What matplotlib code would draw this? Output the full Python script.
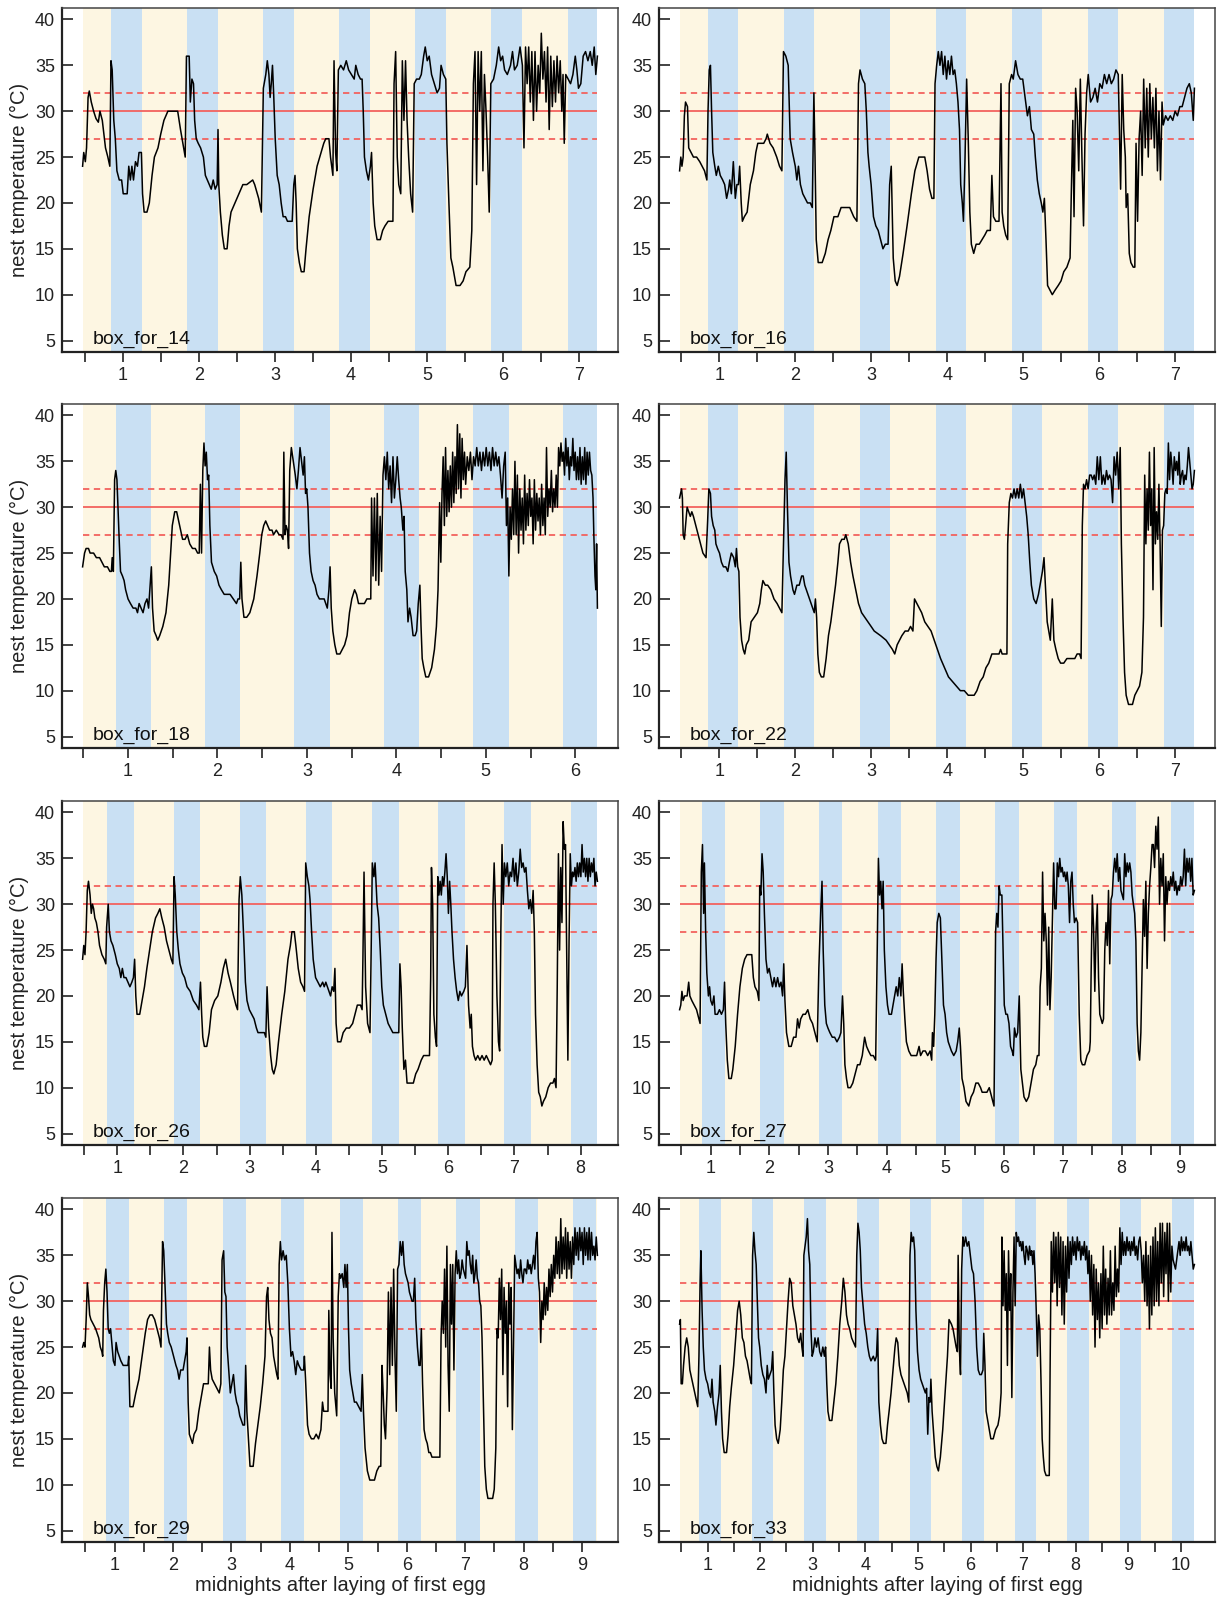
import numpy as np
import matplotlib.pyplot as plt

plt.rcParams['font.family'] = ['Liberation Sans', 'DejaVu Sans']

# nest temperature traces, (days after first egg, deg C)
box14 = [
    (0.471, 24.0), (0.486, 25.5), (0.507, 24.5), (0.523, 26.0), (0.543, 31.5), (0.559, 32.2),
    (0.585, 31.0), (0.616, 30.0), (0.647, 29.2), (0.678, 28.8), (0.699, 30.0), (0.730, 29.0),
    (0.751, 27.5), (0.772, 26.0), (0.803, 25.0), (0.829, 24.0), (0.844, 35.5), (0.860, 34.5),
    (0.881, 29.0), (0.901, 27.0), (0.922, 23.5), (0.953, 22.5), (0.984, 22.5), (1.005, 21.0),
    (1.031, 21.0), (1.057, 21.0), (1.078, 24.0), (1.099, 22.5), (1.119, 24.0), (1.140, 22.5),
    (1.166, 24.5), (1.192, 24.0), (1.213, 25.5), (1.244, 25.5), (1.259, 21.0), (1.280, 19.0),
    (1.317, 19.0), (1.348, 20.0), (1.384, 23.0), (1.415, 25.0), (1.462, 26.0), (1.498, 27.5),
    (1.540, 29.0), (1.592, 30.0), (1.643, 30.0), (1.721, 30.0), (1.758, 28.0), (1.799, 26.0),
    (1.820, 25.0), (1.836, 36.0), (1.872, 36.0), (1.887, 31.0), (1.908, 33.5), (1.929, 33.0),
    (1.944, 29.0), (1.965, 27.0), (1.991, 26.5), (2.022, 26.0), (2.059, 25.0), (2.085, 23.0),
    (2.111, 22.5), (2.162, 21.5), (2.188, 22.5), (2.214, 21.5), (2.240, 22.0), (2.251, 28.0),
    (2.261, 22.0), (2.282, 19.0), (2.308, 16.5), (2.334, 15.0), (2.370, 15.0), (2.396, 17.5),
    (2.422, 19.0), (2.474, 20.0), (2.526, 21.0), (2.578, 22.0), (2.629, 22.0), (2.707, 22.5),
    (2.733, 22.0), (2.785, 20.5), (2.821, 19.0), (2.847, 32.5), (2.879, 34.0), (2.899, 35.5),
    (2.920, 34.0), (2.936, 31.5), (2.951, 33.0), (2.967, 35.0), (2.982, 32.0), (3.003, 27.0),
    (3.029, 23.0), (3.055, 22.0), (3.081, 20.0), (3.107, 18.5), (3.138, 18.5), (3.164, 18.0),
    (3.226, 18.0), (3.247, 22.0), (3.263, 23.0), (3.278, 20.0), (3.294, 15.0), (3.320, 13.5),
    (3.346, 12.5), (3.382, 12.5), (3.408, 15.0), (3.449, 18.5), (3.501, 21.5), (3.553, 24.0),
    (3.605, 25.5), (3.641, 26.5), (3.667, 27.0), (3.709, 27.0), (3.730, 25.0), (3.761, 23.0),
    (3.776, 35.5), (3.797, 25.5), (3.813, 23.5), (3.833, 34.5), (3.865, 35.0), (3.901, 34.5),
    (3.937, 35.5), (3.968, 34.5), (4.005, 34.0), (4.041, 33.5), (4.062, 35.0), (4.093, 34.0),
    (4.124, 33.5), (4.145, 33.5), (4.160, 30.0), (4.176, 25.0), (4.202, 23.5), (4.228, 22.5),
    (4.254, 24.0), (4.269, 25.5), (4.290, 20.0), (4.311, 17.5), (4.342, 16.0), (4.384, 16.0),
    (4.415, 17.0), (4.446, 17.5), (4.487, 18.0), (4.550, 18.0), (4.565, 33.0), (4.586, 36.5),
    (4.607, 25.0), (4.627, 22.0), (4.653, 21.0), (4.674, 35.5), (4.695, 29.0), (4.716, 35.5),
    (4.736, 29.0), (4.757, 25.0), (4.783, 21.0), (4.809, 19.0), (4.830, 33.0), (4.861, 33.5),
    (4.897, 33.5), (4.923, 34.0), (4.954, 36.0), (4.975, 37.0), (5.001, 35.5), (5.027, 36.0),
    (5.058, 34.0), (5.094, 33.0), (5.131, 32.0), (5.162, 32.5), (5.183, 35.0), (5.214, 34.0),
    (5.245, 33.5), (5.260, 26.5), (5.286, 20.0), (5.312, 14.0), (5.338, 13.0), (5.380, 11.0),
    (5.432, 11.0), (5.473, 11.5), (5.510, 12.5), (5.561, 13.0), (5.587, 17.0), (5.608, 33.0),
    (5.629, 36.5), (5.650, 22.0), (5.670, 36.5), (5.691, 30.0), (5.712, 36.5), (5.733, 23.5),
    (5.753, 34.0), (5.774, 30.0), (5.795, 25.0), (5.816, 19.0), (5.837, 33.0), (5.873, 33.5),
    (5.909, 35.0), (5.940, 37.0), (5.966, 35.5), (5.992, 36.0), (6.018, 34.5), (6.054, 34.0),
    (6.096, 35.0), (6.122, 36.5), (6.148, 34.5), (6.184, 35.0), (6.221, 37.0),
    (6.786, 34.0), (6.802, 26.5), (6.822, 34.0), (6.854, 33.5), (6.885, 33.0), (6.916, 34.0),
    (6.947, 36.0), (6.968, 34.5), (6.989, 32.5), (7.020, 33.0), (7.051, 36.0), (7.082, 36.5),
    (7.113, 35.5), (7.144, 36.5), (7.170, 35.0), (7.196, 37.0), (7.217, 34.0), (7.238, 36.0),
]
# stretches of dense logging: (first time, last time, evenly spaced readings)
burst14 = [
    (6.252, 6.770, [35.0, 26.0, 37.0, 33.0, 37.0, 31.0, 36.5, 29.0, 36.5, 30.0, 35.0, 32.0, 38.5,
                    33.5, 36.5, 31.0, 37.0, 28.0, 36.0, 30.5, 35.5, 31.0, 36.0, 32.0, 35.5, 30.0]),
]

box16 = [
    (0.475, 23.5), (0.491, 25.0), (0.506, 24.0), (0.522, 25.0), (0.538, 29.5), (0.553, 31.0),
    (0.579, 30.5), (0.595, 26.0), (0.626, 25.5), (0.657, 25.0), (0.699, 25.0), (0.740, 24.5),
    (0.771, 24.0), (0.803, 23.5), (0.834, 22.5), (0.849, 30.0), (0.865, 34.5), (0.881, 35.0),
    (0.896, 30.0), (0.912, 25.5), (0.938, 24.0), (0.958, 23.0), (0.984, 24.0), (1.010, 23.0),
    (1.042, 22.5), (1.068, 22.0), (1.094, 20.5), (1.119, 21.5), (1.135, 22.5), (1.156, 21.0),
    (1.182, 24.5), (1.208, 20.5), (1.229, 22.0), (1.249, 22.0), (1.265, 24.0), (1.286, 20.0),
    (1.301, 18.0), (1.327, 18.5), (1.364, 19.0), (1.405, 22.0), (1.447, 23.5), (1.478, 25.5),
    (1.504, 26.5), (1.545, 26.5), (1.582, 26.5), (1.613, 27.0), (1.629, 27.5), (1.665, 26.5),
    (1.706, 26.0), (1.753, 25.0), (1.790, 24.0), (1.821, 23.5), (1.842, 36.5), (1.873, 36.0),
    (1.904, 35.0), (1.930, 27.0), (1.961, 25.5), (1.997, 24.0), (2.018, 22.5), (2.039, 24.0),
    (2.065, 22.0), (2.096, 21.0), (2.127, 20.5), (2.158, 20.0), (2.195, 20.0), (2.221, 19.5),
    (2.242, 32.0), (2.257, 25.0), (2.273, 16.0), (2.299, 13.5), (2.351, 13.5), (2.392, 14.5),
    (2.429, 16.0), (2.465, 17.0), (2.506, 18.5), (2.558, 18.5), (2.600, 19.5), (2.662, 19.5),
    (2.714, 19.5), (2.766, 18.5), (2.808, 18.0), (2.829, 33.0), (2.849, 34.5), (2.881, 33.5),
    (2.912, 33.0), (2.932, 30.0), (2.953, 25.5), (2.969, 24.0), (2.995, 22.0), (3.026, 18.5),
    (3.057, 17.5), (3.088, 17.0), (3.119, 16.0), (3.151, 15.0), (3.182, 15.5), (3.218, 15.5),
    (3.239, 22.0), (3.260, 24.0), (3.286, 14.0), (3.312, 11.5), (3.338, 11.0), (3.369, 12.0),
    (3.416, 14.5), (3.468, 17.5), (3.525, 21.0), (3.571, 23.5), (3.623, 25.0), (3.660, 25.0),
    (3.701, 25.0), (3.732, 23.5), (3.764, 21.5), (3.795, 20.5), (3.821, 20.5),
    (4.138, 31.0), (4.158, 28.0), (4.174, 22.0), (4.195, 20.0), (4.210, 18.0), (4.231, 25.0),
    (4.252, 33.5), (4.273, 27.0), (4.294, 19.0), (4.314, 15.5), (4.345, 14.5), (4.377, 15.5),
    (4.418, 15.5), (4.455, 16.0), (4.491, 16.5), (4.522, 17.0), (4.564, 17.0), (4.584, 23.0),
    (4.605, 18.5), (4.636, 18.0), (4.678, 18.0), (4.704, 33.0), (4.719, 19.0), (4.740, 17.5),
    (4.766, 16.5), (4.792, 16.0), (4.813, 33.0), (4.844, 34.0), (4.865, 33.5), (4.896, 35.5),
    (4.927, 34.0), (4.958, 33.5), (4.990, 33.5), (5.021, 31.5), (5.052, 29.5), (5.078, 30.5),
    (5.104, 28.0), (5.135, 27.5), (5.156, 25.0), (5.182, 22.5), (5.208, 21.0), (5.234, 20.0),
    (5.255, 19.0), (5.275, 20.5), (5.296, 16.0), (5.317, 11.0), (5.348, 10.5), (5.379, 10.0),
    (5.416, 10.5), (5.457, 11.0), (5.494, 11.5), (5.530, 12.5), (5.571, 13.0), (5.613, 14.0),
    (5.629, 21.0), (5.649, 29.0), (5.665, 18.5), (5.686, 32.5), (5.706, 30.0), (5.727, 23.5),
    (5.748, 33.5), (5.769, 25.0), (5.790, 17.5), (5.810, 27.5), (5.831, 32.0),
    (6.262, 28.0), (6.278, 21.5), (6.299, 34.0), (6.319, 28.0), (6.340, 25.0), (6.351, 19.5),
    (6.371, 21.0), (6.392, 14.5), (6.413, 13.5), (6.444, 13.0), (6.465, 13.0),
    (6.839, 28.5), (6.870, 29.5), (6.901, 29.0), (6.932, 29.5), (6.964, 29.0), (6.995, 30.0),
    (7.026, 29.5), (7.057, 30.5), (7.088, 30.5), (7.119, 31.5), (7.151, 32.5), (7.182, 33.0),
    (7.208, 32.0), (7.234, 29.0), (7.249, 32.5),
]
burst16 = [
    (3.836, 4.117, [33.0, 35.0, 36.5, 35.0, 36.5, 34.0, 36.0, 33.5, 35.5, 34.0, 36.0, 34.0, 34.5, 33.0]),
    (5.852, 6.247, [34.0, 31.0, 31.5, 32.5, 31.0, 33.0, 32.5, 34.0, 33.0, 34.0, 33.0, 33.5, 34.5, 34.0]),
    (6.481, 6.823, [26.5, 18.0, 27.0, 30.0, 23.0, 33.5, 26.0, 32.5, 25.0, 33.0, 27.0, 31.5, 26.0,
                    32.5, 23.5, 30.0, 22.5, 31.0]),
]

box18 = [
    (0.492, 23.5), (0.514, 25.0), (0.531, 25.5), (0.558, 25.5), (0.576, 25.0), (0.615, 25.0),
    (0.646, 24.5), (0.682, 24.5), (0.708, 24.0), (0.735, 23.5), (0.770, 23.5), (0.797, 23.0),
    (0.814, 23.0), (0.823, 24.5), (0.836, 23.0), (0.850, 33.0), (0.863, 34.0), (0.876, 33.0),
    (0.889, 29.5), (0.903, 26.0), (0.916, 23.0), (0.938, 22.5), (0.956, 22.0), (0.973, 21.0),
    (1.000, 20.0), (1.027, 19.5), (1.057, 19.0), (1.088, 19.0), (1.106, 18.5), (1.124, 19.5),
    (1.146, 19.0), (1.168, 18.5), (1.190, 19.5), (1.212, 20.0), (1.230, 19.0), (1.247, 21.5),
    (1.261, 23.5), (1.274, 19.0), (1.292, 16.5), (1.314, 16.0), (1.332, 15.5), (1.354, 16.0),
    (1.389, 17.0), (1.424, 18.5), (1.455, 21.5), (1.477, 25.0), (1.495, 28.0), (1.522, 29.5),
    (1.544, 29.5), (1.566, 28.5), (1.588, 27.5), (1.610, 26.5), (1.637, 26.5), (1.663, 27.0),
    (1.690, 26.0), (1.721, 25.5), (1.752, 25.5), (1.778, 25.0), (1.796, 25.0), (1.809, 32.5),
    (1.822, 25.0), (1.836, 34.0), (1.849, 37.0), (1.862, 34.5), (1.875, 36.0), (1.889, 33.0),
    (1.902, 33.5), (1.915, 28.0), (1.933, 24.0), (1.964, 23.0), (1.991, 22.5), (2.017, 21.5),
    (2.044, 21.0), (2.075, 20.5), (2.106, 20.5), (2.141, 20.5), (2.177, 20.0), (2.212, 19.5),
    (2.230, 20.0), (2.248, 20.0), (2.261, 24.0), (2.274, 20.0), (2.296, 18.0), (2.327, 18.0),
    (2.362, 18.5), (2.406, 20.0), (2.442, 22.5), (2.473, 25.0), (2.495, 27.0), (2.517, 28.0),
    (2.539, 28.5), (2.561, 28.0), (2.583, 27.5), (2.610, 27.5), (2.627, 27.0), (2.658, 27.5),
    (2.689, 27.0), (2.711, 27.0), (2.733, 26.5), (2.742, 36.0), (2.755, 27.0), (2.768, 28.0),
    (2.782, 27.5), (2.795, 25.5), (2.808, 34.0), (2.826, 36.5), (2.848, 35.0), (2.870, 33.5),
    (2.888, 32.0), (2.905, 34.0), (2.923, 36.5), (2.941, 35.0), (2.958, 33.5), (2.972, 35.5),
    (2.985, 31.5), (2.998, 32.0), (3.012, 30.0), (3.029, 25.0), (3.047, 23.0), (3.069, 22.0),
    (3.091, 21.5), (3.113, 20.5), (3.140, 20.0), (3.166, 20.0), (3.193, 20.0), (3.210, 19.5),
    (3.228, 19.0), (3.246, 21.0), (3.259, 23.5), (3.272, 19.0), (3.290, 16.5), (3.312, 15.0),
    (3.334, 14.0), (3.369, 14.0), (3.396, 14.5), (3.422, 15.0), (3.449, 16.0), (3.476, 18.5),
    (3.502, 20.0), (3.533, 21.0), (3.555, 20.5), (3.577, 19.5), (3.608, 19.5), (3.643, 19.5),
    (3.670, 20.0), (3.697, 20.0), (3.714, 20.0),
    (4.055, 30.0), (4.073, 27.5), (4.086, 29.0), (4.099, 23.0), (4.117, 21.0), (4.130, 17.5),
    (4.148, 19.0), (4.165, 18.0), (4.187, 16.0), (4.210, 16.0), (4.227, 16.5), (4.245, 19.5),
    (4.263, 21.5), (4.276, 17.0), (4.289, 13.5), (4.307, 12.5), (4.329, 11.5), (4.360, 11.5),
    (4.395, 12.5), (4.426, 14.5), (4.448, 17.0), (4.466, 21.0),
    (5.182, 31.0), (5.200, 34.5), (5.217, 36.0),
    (6.208, 27.0), (6.221, 22.5), (6.230, 21.0), (6.239, 26.0), (6.248, 19.0),
]
burst18 = [
    (3.723, 4.042, [31.0, 22.5, 31.0, 22.0, 31.5, 21.5, 29.0, 23.0, 33.5, 35.5, 33.0, 36.0, 32.0,
                    34.5, 30.5, 35.5, 31.0, 33.0, 35.5, 33.0, 31.0]),
    (4.484, 4.762, [30.5, 24.0, 31.5, 35.5, 28.0, 36.5, 29.0, 34.0, 29.5, 34.5, 30.0, 36.0, 30.5,
                    35.5, 31.5, 39.0, 32.0, 38.0, 31.0, 37.5, 33.0, 36.0]),
    (4.775, 5.164, [32.5, 35.5, 34.0, 36.0, 33.0, 35.5, 34.5, 36.5, 34.5, 36.0, 34.0, 36.0, 34.5,
                    36.5, 34.5, 36.0, 34.0, 36.5, 34.5, 36.0, 34.5, 35.5, 33.5]),
    (5.231, 5.801, [28.0, 31.0, 22.5, 30.0, 26.5, 32.0, 27.0, 35.0, 27.0, 33.5, 25.0, 32.0, 27.5,
                    31.0, 26.0, 33.5, 27.5, 31.5, 28.0, 33.0, 29.0, 31.0, 26.0, 33.0, 27.5, 31.5,
                    28.5, 31.0, 27.0, 32.5, 28.0, 31.0, 27.0, 36.5, 29.0, 32.0, 30.0, 34.0, 29.5,
                    32.0, 30.0, 33.5, 30.0]),
    (5.814, 6.199, [36.5, 34.5, 37.0, 35.0, 36.0, 33.5, 37.5, 34.5, 36.5, 33.0, 35.5, 34.5, 37.5,
                    34.0, 36.0, 33.0, 35.5, 33.0, 36.5, 32.5, 35.5, 33.0, 36.5, 32.5, 36.0, 33.5,
                    36.0, 34.0, 33.5, 31.0]),
]

box22 = [
    (0.475, 31.0), (0.501, 32.0), (0.512, 31.0), (0.522, 27.0), (0.538, 26.5), (0.553, 28.0),
    (0.574, 30.0), (0.595, 29.5), (0.616, 29.0), (0.636, 29.5), (0.657, 29.0), (0.688, 28.0),
    (0.719, 27.0), (0.751, 26.0), (0.782, 25.0), (0.823, 24.5), (0.844, 28.5), (0.860, 32.0),
    (0.881, 31.5), (0.896, 29.0), (0.917, 28.0), (0.938, 27.5), (0.953, 26.0), (0.974, 25.5),
    (1.000, 25.0), (1.026, 24.0), (1.052, 23.5), (1.083, 23.5), (1.109, 23.0), (1.130, 24.0),
    (1.156, 25.0), (1.187, 24.5), (1.208, 23.5), (1.223, 25.5), (1.239, 23.5), (1.255, 23.0),
    (1.270, 18.0), (1.291, 15.5), (1.312, 14.5), (1.332, 14.0), (1.353, 15.0), (1.384, 15.5),
    (1.416, 17.5), (1.457, 18.0), (1.499, 18.5), (1.530, 19.5), (1.551, 21.0), (1.571, 22.0),
    (1.603, 21.5), (1.634, 21.5), (1.675, 21.0), (1.717, 20.0), (1.758, 19.5), (1.790, 19.0),
    (1.821, 18.5), (1.842, 26.0), (1.862, 33.0), (1.878, 36.0), (1.894, 30.0), (1.914, 24.0),
    (1.935, 22.5), (1.966, 21.0), (1.987, 20.5), (2.018, 21.5), (2.049, 21.5), (2.081, 22.5),
    (2.101, 22.5), (2.122, 21.5), (2.143, 21.0), (2.164, 20.5), (2.184, 20.0), (2.205, 19.5),
    (2.226, 19.0), (2.247, 18.5), (2.262, 20.0), (2.278, 18.0), (2.294, 14.0), (2.314, 12.0),
    (2.340, 11.5), (2.371, 11.5), (2.403, 13.5), (2.434, 16.0), (2.465, 17.5), (2.496, 19.5),
    (2.527, 21.5), (2.558, 24.0), (2.579, 26.0), (2.610, 26.5), (2.642, 26.5), (2.662, 27.0),
    (2.694, 26.0), (2.725, 24.0), (2.756, 22.5), (2.792, 21.0), (2.829, 19.5), (2.870, 18.5),
    (2.912, 18.0), (2.953, 17.5), (2.995, 17.0), (3.036, 16.5), (3.119, 16.0), (3.192, 15.5),
    (3.234, 15.0), (3.275, 14.5), (3.306, 14.0), (3.338, 15.0), (3.369, 15.5), (3.400, 16.0),
    (3.442, 16.5), (3.483, 16.5), (3.514, 17.0), (3.545, 16.5), (3.566, 20.0), (3.597, 19.5),
    (3.629, 19.0), (3.660, 18.5), (3.701, 17.5), (3.743, 17.0), (3.784, 16.5), (3.826, 15.5),
    (3.868, 14.5), (3.909, 13.5), (3.961, 12.5), (4.013, 11.5), (4.065, 11.0), (4.117, 10.5),
    (4.169, 10.0), (4.221, 10.0), (4.273, 9.5), (4.351, 9.5), (4.387, 10.0), (4.429, 11.0),
    (4.470, 11.5), (4.506, 12.5), (4.543, 13.0), (4.584, 14.0), (4.678, 14.0), (4.699, 14.5),
    (4.719, 14.0), (4.782, 14.0), (4.792, 26.0), (4.813, 30.5),
    (5.042, 29.0), (5.062, 27.0), (5.083, 24.0), (5.104, 21.5), (5.135, 20.0), (5.166, 19.5),
    (5.197, 20.5), (5.229, 22.0), (5.249, 23.0), (5.270, 24.5), (5.291, 21.0), (5.312, 17.5),
    (5.332, 16.5), (5.353, 15.5), (5.379, 20.0), (5.400, 15.5), (5.426, 14.5), (5.457, 13.5),
    (5.488, 13.0), (5.530, 13.0), (5.571, 13.5), (5.675, 13.5), (5.706, 14.0), (5.738, 14.0),
    (5.758, 13.5), (5.774, 28.0), (5.790, 32.5),
    (6.288, 26.0), (6.309, 18.0), (6.330, 12.0), (6.351, 9.5), (6.382, 8.5), (6.434, 8.5),
    (6.465, 9.5), (6.496, 10.0), (6.527, 10.5), (6.558, 12.0), (6.579, 18.0),
]
burst22 = [
    (4.834, 5.021, [31.5, 31.0, 32.0, 31.0, 32.0, 31.0, 32.5, 31.0, 32.0, 30.5]),
    (5.810, 6.273, [32.0, 33.0, 32.0, 33.5, 33.5, 33.0, 33.5, 32.5, 35.5, 33.0, 35.5, 32.5, 33.5,
                    32.5, 34.0, 33.0, 33.5, 33.0, 30.5, 35.5, 33.5, 36.0, 32.0, 36.5]),
    (6.595, 7.249, [33.5, 26.0, 32.0, 27.5, 36.0, 28.0, 32.0, 21.0, 36.5, 26.0, 29.5, 26.5, 32.5,
                    26.0, 17.0, 27.5, 28.0, 31.5, 32.0, 31.5, 37.0, 33.0, 36.0, 34.5, 32.5, 35.5,
                    34.0, 35.0, 33.5, 36.0, 32.5, 33.5, 34.0, 32.5, 33.5, 33.0, 34.5, 36.5, 35.0,
                    33.5, 32.0, 32.5, 34.0]),
]

box26 = [
    (0.476, 24.0), (0.494, 25.5), (0.512, 24.5), (0.529, 27.0), (0.547, 31.5), (0.565, 32.5),
    (0.589, 31.0), (0.607, 29.0), (0.625, 30.0), (0.643, 29.5), (0.661, 28.5), (0.684, 28.0),
    (0.708, 27.0), (0.732, 25.5), (0.768, 24.5), (0.803, 24.0), (0.827, 23.5), (0.839, 27.5),
    (0.863, 30.0), (0.881, 27.0), (0.905, 26.0), (0.934, 25.5), (0.970, 24.5), (1.000, 23.5),
    (1.030, 23.0), (1.054, 22.0), (1.077, 23.0), (1.101, 22.0), (1.131, 22.0), (1.161, 21.5),
    (1.191, 21.0), (1.220, 21.5), (1.244, 22.0), (1.262, 24.0), (1.280, 20.0), (1.298, 18.0),
    (1.339, 18.0), (1.375, 19.5), (1.411, 21.0), (1.447, 23.0), (1.488, 25.0), (1.530, 27.0),
    (1.578, 28.5), (1.613, 29.0), (1.643, 29.5), (1.673, 28.5), (1.709, 27.5), (1.744, 26.0),
    (1.780, 25.0), (1.816, 24.0), (1.840, 23.5), (1.858, 33.0), (1.876, 31.0), (1.899, 27.0),
    (1.923, 25.0), (1.947, 23.5), (1.983, 22.5), (2.018, 22.0), (2.054, 21.0), (2.102, 20.5),
    (2.149, 19.5), (2.197, 19.0), (2.233, 18.5), (2.257, 21.5), (2.275, 18.0), (2.292, 15.5),
    (2.316, 14.5), (2.352, 14.5), (2.388, 16.0), (2.423, 18.5), (2.471, 19.5), (2.519, 20.0),
    (2.566, 21.5), (2.602, 23.0), (2.638, 24.0), (2.674, 22.5), (2.709, 21.5), (2.757, 20.0),
    (2.793, 19.0), (2.817, 18.5), (2.840, 30.5), (2.858, 33.0), (2.882, 31.0), (2.912, 26.0),
    (2.936, 21.5), (2.960, 19.5), (2.995, 18.5), (3.031, 18.0), (3.067, 17.5), (3.102, 16.5),
    (3.126, 16.0), (3.186, 16.0), (3.222, 16.0), (3.245, 15.5), (3.263, 21.0), (3.287, 16.5),
    (3.317, 13.5), (3.341, 12.0), (3.365, 11.5), (3.400, 12.5), (3.436, 15.0), (3.484, 18.0),
    (3.531, 20.5), (3.579, 24.0), (3.615, 25.5), (3.639, 27.0), (3.674, 27.0), (3.698, 25.5),
    (3.734, 23.0), (3.770, 21.5), (3.805, 21.0), (3.829, 20.5), (3.847, 34.5), (3.871, 33.0),
    (3.895, 32.0), (3.912, 30.5), (3.936, 27.0), (3.960, 24.0), (3.996, 22.0), (4.032, 21.5),
    (4.067, 21.0),
    (4.288, 23.0), (4.306, 17.0), (4.329, 15.0), (4.377, 15.0), (4.413, 16.0), (4.460, 16.5),
    (4.508, 16.5), (4.556, 17.0), (4.591, 18.0), (4.627, 19.0), (4.675, 19.0), (4.699, 18.5),
    (4.711, 24.0), (4.728, 33.5), (4.752, 21.0), (4.782, 17.0), (4.818, 16.0), (4.836, 25.0),
    (4.853, 34.5), (4.877, 33.0), (4.895, 34.5), (4.925, 30.0), (4.949, 28.5), (4.973, 25.0),
    (4.996, 21.0), (5.020, 19.0), (5.056, 18.0), (5.092, 17.0), (5.127, 16.5), (5.163, 16.0),
    (5.253, 16.0), (5.270, 23.5), (5.288, 21.0), (5.306, 16.5), (5.330, 12.0), (5.354, 13.0),
    (5.378, 10.5), (5.473, 10.5), (5.509, 11.5), (5.544, 12.0), (5.592, 13.0), (5.628, 13.5),
    (5.717, 13.5), (5.735, 22.0), (5.747, 34.0), (5.765, 30.0), (5.783, 18.0), (5.806, 15.5),
    (5.824, 14.5),
    (6.057, 27.0), (6.080, 24.0), (6.104, 22.0), (6.128, 20.5), (6.152, 19.5), (6.176, 20.5),
    (6.200, 20.0), (6.235, 20.5), (6.259, 21.0), (6.283, 25.5), (6.307, 19.0), (6.331, 16.5),
    (6.348, 18.0), (6.366, 14.5), (6.390, 13.5),
    (6.664, 13.0), (6.676, 30.0), (6.694, 34.5), (6.712, 30.0), (6.736, 20.0), (6.759, 15.0),
    (6.777, 14.0), (6.795, 27.0), (6.813, 36.5), (6.831, 30.0),
    (7.301, 27.0), (7.319, 18.0), (7.343, 12.5), (7.367, 9.5), (7.391, 9.0), (7.415, 8.0),
    (7.438, 8.5), (7.474, 9.0), (7.510, 10.0), (7.546, 10.5), (7.581, 10.5), (7.605, 11.0),
    (7.629, 10.0), (7.647, 21.0),
]
burst26 = [
    (4.103, 4.270, [21.5, 21.0, 21.5, 21.0, 20.5, 20.0, 21.0, 20.5]),
    (5.842, 6.039, [33.0, 31.0, 32.5, 31.0, 33.0, 32.0, 33.5, 35.5, 33.0, 29.0, 32.5, 30.0]),
    (6.414, 6.640, [13.0, 13.5, 13.0, 13.5, 13.0, 13.5, 13.0, 12.5]),
    (6.849, 7.283, [34.5, 33.0, 34.5, 32.0, 33.5, 33.0, 35.0, 32.5, 34.5, 32.0, 33.5, 36.0, 34.0,
                    34.5, 33.5, 34.0, 31.5, 29.5, 30.5, 29.0, 31.5]),
    (7.665, 8.254, [35.5, 25.0, 34.0, 28.0, 39.0, 36.0, 36.5, 25.0, 13.0, 26.0, 35.5, 32.0, 33.5,
                    33.0, 34.0, 32.5, 34.5, 33.0, 34.5, 33.0, 36.5, 33.5, 35.0, 33.0, 35.0, 32.5,
                    35.0, 33.0, 34.5, 33.5, 35.0, 32.0, 33.5, 32.5]),
]

box27 = [
    (0.469, 18.5), (0.489, 19.0), (0.509, 20.5), (0.529, 19.5), (0.556, 20.0), (0.597, 20.0),
    (0.624, 21.5), (0.644, 20.0), (0.677, 19.5), (0.718, 19.0), (0.758, 18.5), (0.798, 17.5),
    (0.818, 17.0), (0.839, 33.5), (0.859, 36.5), (0.879, 29.0), (0.892, 34.5), (0.913, 27.0),
    (0.933, 22.5), (0.960, 20.0), (0.980, 21.0), (1.000, 19.5), (1.027, 19.0), (1.054, 20.0),
    (1.074, 18.0), (1.114, 18.0), (1.148, 18.5), (1.182, 18.0), (1.215, 18.5), (1.235, 21.5),
    (1.255, 17.0), (1.282, 13.0), (1.309, 11.0), (1.350, 11.0), (1.376, 12.0), (1.417, 14.5),
    (1.457, 18.0), (1.497, 21.0), (1.538, 23.0), (1.578, 24.0), (1.618, 24.5), (1.699, 24.5),
    (1.726, 22.0), (1.753, 21.0), (1.793, 20.5), (1.820, 19.5), (1.834, 32.0), (1.854, 31.0),
    (1.874, 35.5), (1.894, 33.5), (1.914, 29.0), (1.941, 24.0), (1.968, 22.5),
    (2.224, 20.0), (2.244, 23.5), (2.264, 19.5), (2.291, 16.0), (2.331, 14.5), (2.371, 14.5),
    (2.412, 15.5), (2.452, 15.5), (2.479, 17.5), (2.506, 16.5), (2.533, 17.5), (2.573, 18.0),
    (2.613, 18.0), (2.654, 18.5), (2.694, 17.5), (2.734, 17.0), (2.775, 16.0), (2.815, 15.0),
    (2.842, 23.0), (2.876, 29.5), (2.896, 32.5), (2.916, 25.0), (2.943, 19.0), (2.970, 17.0),
    (2.997, 16.5), (3.030, 16.0), (3.071, 15.5), (3.111, 15.5), (3.151, 15.0), (3.192, 15.5),
    (3.218, 16.0), (3.245, 20.0), (3.266, 17.0), (3.286, 12.5), (3.313, 11.0), (3.339, 10.0),
    (3.380, 10.0), (3.420, 10.5), (3.461, 11.5), (3.501, 12.5), (3.541, 12.5), (3.582, 13.5),
    (3.622, 15.5), (3.655, 14.5), (3.689, 14.0), (3.729, 13.5), (3.770, 13.5), (3.810, 13.0),
    (3.837, 25.0), (3.857, 35.0), (3.877, 31.0), (3.897, 32.5), (3.918, 29.5), (3.938, 32.5),
    (3.958, 25.0), (3.985, 21.0), (4.012, 19.0), (4.039, 18.0), (4.079, 18.0), (4.106, 19.0),
    (4.133, 20.0), (4.160, 21.0), (4.187, 20.0), (4.213, 22.0), (4.240, 20.0), (4.261, 23.5),
    (4.281, 20.5), (4.308, 17.5), (4.334, 15.0), (4.375, 14.0), (4.415, 13.5), (4.509, 13.5),
    (4.550, 14.5), (4.576, 13.5), (4.617, 14.0), (4.657, 14.0), (4.697, 13.5), (4.738, 14.0),
    (4.765, 13.0), (4.778, 16.0), (4.798, 14.5), (4.818, 18.0), (4.839, 24.0), (4.859, 28.0),
    (4.886, 29.0), (4.913, 28.5), (4.939, 24.0), (4.966, 19.0), (4.993, 18.0), (5.020, 16.0),
    (5.047, 15.0), (5.074, 14.5), (5.101, 14.0), (5.141, 13.5), (5.182, 14.0), (5.208, 15.0),
    (5.235, 16.5), (5.255, 14.5), (5.282, 11.0), (5.316, 10.0), (5.350, 8.5), (5.397, 8.0),
    (5.437, 9.0), (5.477, 9.5), (5.518, 10.5), (5.558, 10.5), (5.598, 10.0), (5.625, 9.5),
    (5.706, 9.5), (5.746, 10.0), (5.787, 9.0), (5.827, 8.0), (5.854, 27.0), (5.874, 29.0),
    (5.894, 27.5), (5.914, 32.0), (5.934, 31.0), (5.961, 31.0), (5.982, 25.0), (6.002, 19.0),
    (6.029, 18.0), (6.055, 18.0), (6.082, 17.0), (6.109, 14.5), (6.136, 14.0), (6.156, 13.5),
    (6.176, 16.5), (6.203, 15.5), (6.230, 16.0), (6.257, 20.0), (6.284, 12.0), (6.311, 10.5),
    (6.338, 9.0), (6.378, 8.5), (6.418, 9.0), (6.459, 10.5), (6.499, 12.0), (6.539, 12.5),
    (6.566, 13.5), (6.593, 13.5),
    (7.225, 28.5), (7.252, 28.0), (7.279, 18.0), (7.306, 13.0), (7.333, 12.5), (7.373, 12.5),
    (7.413, 13.5), (7.454, 14.0), (7.467, 15.0),
]
burst27 = [
    (1.995, 2.197, [23.0, 22.0, 21.0, 22.0, 21.0, 22.0, 21.0, 21.5]),
    (6.613, 7.198, [21.0, 23.0, 33.5, 26.0, 29.0, 26.0, 19.0, 27.5, 18.5, 22.0, 28.0, 34.5, 29.5,
                    29.5, 34.5, 33.0, 35.0, 33.5, 34.0, 33.0, 33.5, 32.5, 33.5, 32.0, 28.0, 32.5,
                    33.5, 30.0, 28.0]),
    (7.481, 9.242, [22.0, 31.0, 27.5, 20.5, 27.0, 30.0, 22.0, 18.0, 17.5, 17.0, 17.5, 25.0, 28.0,
                    25.5, 31.5, 23.5, 30.5, 31.0, 33.5, 35.0, 33.5, 35.5, 32.5, 34.0, 31.5, 31.0,
                    30.5, 35.5, 33.0, 34.5, 33.5, 34.5, 33.5, 31.0, 30.0, 29.0, 26.0, 17.0, 14.0,
                    13.0, 16.0, 23.0, 30.5, 26.5, 32.5, 23.0, 29.0, 32.0, 34.0, 36.5, 36.5, 34.0,
                    38.5, 36.0, 39.5, 30.0, 35.0, 32.0, 35.5, 26.0, 33.0, 30.0, 32.5, 31.5, 33.0,
                    32.0, 33.5, 31.5, 32.5, 31.0, 32.0, 31.5, 33.0, 32.0, 33.0, 36.0, 32.0, 35.0,
                    33.5, 35.0, 32.5, 35.0, 31.0, 31.5]),
]

box29 = [
    (0.454, 25.0), (0.474, 25.5), (0.495, 25.0), (0.515, 28.0), (0.535, 32.0), (0.555, 30.5),
    (0.575, 28.5), (0.596, 28.0), (0.636, 27.5), (0.677, 27.0), (0.704, 26.5), (0.730, 26.0),
    (0.757, 25.0), (0.784, 24.5), (0.798, 24.0), (0.811, 29.0), (0.832, 32.0), (0.852, 33.5),
    (0.872, 31.0), (0.892, 27.0), (0.912, 26.5), (0.933, 27.0), (0.953, 25.5), (0.980, 23.5),
    (1.007, 23.0), (1.027, 25.5), (1.054, 24.5), (1.081, 24.0), (1.108, 23.5), (1.148, 23.0),
    (1.229, 23.0), (1.243, 24.0), (1.263, 18.5), (1.317, 18.5), (1.364, 20.0), (1.418, 21.5),
    (1.472, 24.0), (1.526, 26.5), (1.566, 28.0), (1.606, 28.5), (1.647, 28.5), (1.687, 28.0),
    (1.728, 27.0), (1.768, 26.0), (1.795, 25.0), (1.822, 36.5), (1.842, 35.5), (1.863, 32.0),
    (1.889, 27.5), (1.910, 26.5), (1.937, 25.5), (1.970, 25.0), (2.011, 24.0), (2.051, 23.0),
    (2.078, 22.5), (2.105, 21.5), (2.132, 22.5), (2.173, 22.5), (2.199, 23.5), (2.226, 24.5),
    (2.240, 26.0), (2.260, 19.0), (2.280, 15.5), (2.307, 15.0), (2.334, 14.5), (2.361, 15.5),
    (2.402, 16.0), (2.442, 18.0), (2.482, 19.5), (2.523, 21.0), (2.604, 21.0), (2.624, 25.0),
    (2.644, 22.5), (2.671, 21.5), (2.712, 21.0), (2.752, 20.5), (2.792, 20.0), (2.819, 21.0),
    (2.840, 34.5), (2.867, 35.5), (2.887, 31.0), (2.907, 30.5), (2.927, 25.0), (2.954, 22.5),
    (2.981, 20.0), (3.008, 21.0), (3.035, 22.0), (3.062, 20.0), (3.089, 19.0), (3.116, 18.5),
    (3.143, 17.5), (3.170, 17.0), (3.197, 16.5), (3.224, 16.5), (3.244, 23.0), (3.264, 18.0),
    (3.291, 15.0), (3.318, 12.0), (3.372, 12.0), (3.412, 14.5), (3.453, 16.5), (3.493, 18.5),
    (3.534, 21.0), (3.574, 24.0), (3.601, 30.5), (3.621, 31.5), (3.642, 28.0), (3.668, 26.5),
    (3.695, 26.0), (3.722, 24.0), (3.749, 23.0), (3.776, 22.0), (3.796, 21.5), (3.817, 34.0),
    (3.837, 36.5), (3.857, 34.5), (3.884, 35.5), (3.911, 34.5), (3.938, 35.0), (3.965, 32.0),
    (3.992, 27.0), (4.019, 24.0), (4.046, 24.5), (4.073, 23.5), (4.100, 22.0), (4.127, 23.5),
    (4.154, 23.0), (4.194, 22.5), (4.235, 22.5), (4.248, 24.0), (4.268, 21.5), (4.302, 16.5),
    (4.329, 15.5), (4.369, 15.0), (4.410, 15.0), (4.450, 15.5), (4.491, 15.0), (4.531, 16.0),
    (4.558, 19.0), (4.578, 18.0), (4.652, 18.0), (4.666, 29.0), (4.686, 22.0), (4.706, 20.5),
    (4.720, 37.5), (4.740, 26.0), (4.767, 20.0), (4.801, 17.5), (4.827, 30.5), (4.848, 33.0),
    (4.868, 32.5), (4.895, 33.0), (4.922, 31.5), (4.942, 34.0), (4.962, 31.5), (4.983, 34.0),
    (5.003, 27.0), (5.023, 22.5), (5.050, 21.0), (5.077, 20.0), (5.104, 19.0), (5.137, 19.0),
    (5.178, 18.5), (5.218, 18.0), (5.239, 22.0), (5.259, 18.0), (5.286, 14.0), (5.326, 11.5),
    (5.367, 10.5), (5.447, 10.5), (5.488, 11.5), (5.528, 12.0), (5.555, 12.0), (5.576, 23.0),
    (5.596, 20.0), (5.616, 16.5), (5.636, 15.0),
    (6.155, 28.0), (6.182, 25.0), (6.209, 23.0), (6.229, 23.0), (6.249, 27.0), (6.270, 21.0),
    (6.296, 16.0), (6.323, 15.0), (6.350, 14.5), (6.377, 13.5), (6.404, 13.5), (6.431, 13.0),
    (6.566, 13.0),
    (7.287, 26.0), (7.307, 20.0), (7.334, 12.0), (7.361, 9.5), (7.388, 8.5), (7.469, 8.5),
    (7.496, 9.5), (7.523, 14.0),
]
burst29 = [
    (5.663, 6.135, [20.5, 31.0, 22.0, 31.5, 23.0, 33.5, 24.0, 18.0, 33.5, 34.0, 36.5, 35.0, 36.5,
                    34.0, 33.0, 32.5, 32.0, 31.0, 30.5, 30.0, 30.0, 32.5]),
    (6.586, 7.267, [26.0, 30.0, 26.5, 33.5, 25.0, 36.0, 23.0, 18.0, 34.0, 27.5, 34.0, 22.5, 33.0,
                    35.5, 33.0, 34.5, 32.5, 33.0, 34.5, 33.5, 33.0, 32.5, 36.5, 35.0, 35.5, 34.0,
                    33.0, 35.0, 32.0, 33.0, 34.5, 32.5, 32.0, 30.0, 29.5]),
    (7.543, 9.261, [27.0, 26.0, 32.5, 28.0, 33.5, 22.0, 31.5, 26.5, 30.0, 18.5, 32.0, 27.5, 31.5,
                    16.0, 25.0, 35.0, 34.0, 33.0, 33.5, 32.5, 34.5, 33.0, 32.0, 33.5, 33.5, 33.0,
                    34.5, 33.5, 34.0, 33.0, 34.0, 35.0, 33.5, 36.5, 37.5, 32.5, 31.0, 25.5, 30.0,
                    28.0, 32.0, 28.5, 31.5, 29.0, 33.5, 30.5, 34.0, 31.0, 35.0, 32.5, 37.0, 33.0,
                    36.5, 32.5, 39.0, 33.0, 37.0, 33.5, 38.0, 32.5, 37.5, 33.5, 36.5, 32.5, 37.0,
                    34.0, 38.0, 35.0, 37.5, 34.5, 38.0, 35.5, 37.5, 34.0, 38.0, 35.0, 37.5, 34.5,
                    38.0, 34.5, 37.5, 35.0, 36.0, 34.5, 37.0, 35.0]),
]

box33 = [
    (0.467, 27.5), (0.482, 28.0), (0.497, 21.0), (0.520, 21.0), (0.542, 23.0), (0.572, 25.0),
    (0.602, 26.0), (0.632, 25.0), (0.662, 22.5), (0.700, 21.5), (0.737, 20.5), (0.775, 19.5),
    (0.812, 18.5), (0.835, 24.0), (0.857, 32.0), (0.872, 35.5), (0.895, 29.0), (0.917, 25.0),
    (0.940, 22.5), (0.970, 21.5), (1.000, 21.0), (1.030, 20.0), (1.060, 19.5), (1.083, 21.5),
    (1.105, 19.0), (1.135, 18.0), (1.158, 16.5), (1.188, 18.5), (1.218, 20.0), (1.240, 23.0),
    (1.263, 18.0), (1.285, 15.0), (1.315, 13.5), (1.360, 13.5), (1.390, 15.5), (1.420, 18.5),
    (1.450, 20.5), (1.495, 23.0), (1.540, 26.5), (1.570, 29.0), (1.600, 30.0), (1.630, 28.5),
    (1.660, 26.0), (1.690, 25.5), (1.720, 24.0), (1.750, 23.5), (1.780, 22.5), (1.810, 21.5),
    (1.833, 21.0), (1.855, 35.0), (1.878, 37.5), (1.900, 35.5), (1.923, 34.0), (1.945, 30.0),
    (1.968, 26.0), (1.990, 25.0), (2.020, 23.0), (2.050, 22.0), (2.080, 21.5), (2.110, 20.0),
    (2.133, 23.0), (2.155, 21.5), (2.185, 22.0), (2.215, 22.5), (2.238, 24.5), (2.260, 20.0),
    (2.283, 16.5), (2.313, 15.0), (2.343, 14.5), (2.380, 16.0), (2.410, 19.0), (2.440, 22.5),
    (2.470, 24.0), (2.500, 27.0), (2.530, 30.0), (2.560, 32.5), (2.590, 32.0), (2.620, 29.5),
    (2.650, 28.5), (2.680, 27.5), (2.710, 26.0), (2.740, 25.5), (2.770, 26.5), (2.793, 25.0),
    (2.815, 24.0), (2.830, 35.0), (2.853, 36.0), (2.875, 37.0), (2.898, 39.0), (2.920, 35.5),
    (2.943, 34.0), (2.965, 27.0), (2.988, 24.0), (3.011, 24.5), (3.041, 26.0), (3.071, 25.0),
    (3.101, 26.0), (3.131, 24.5), (3.161, 24.0), (3.191, 25.0), (3.221, 24.0), (3.243, 25.0),
    (3.266, 21.0), (3.288, 18.0), (3.318, 17.0), (3.363, 17.0), (3.401, 19.0), (3.438, 21.0),
    (3.476, 24.0), (3.513, 27.5), (3.551, 30.0), (3.581, 32.5), (3.611, 31.0), (3.641, 28.5),
    (3.671, 27.5), (3.701, 27.0), (3.738, 26.0), (3.776, 25.5), (3.813, 25.0), (3.836, 35.0),
    (3.858, 38.5), (3.881, 37.5), (3.903, 35.5), (3.926, 31.5), (3.956, 29.5), (3.986, 27.5),
    (4.016, 26.5), (4.046, 25.0), (4.076, 24.0), (4.106, 23.5), (4.151, 24.0), (4.181, 23.5),
    (4.211, 24.0), (4.233, 27.0), (4.256, 19.0), (4.286, 16.5), (4.316, 15.0), (4.346, 14.5),
    (4.391, 14.5), (4.421, 16.5), (4.451, 18.0), (4.488, 20.0), (4.526, 22.5), (4.563, 25.0),
    (4.586, 26.0), (4.616, 25.5), (4.646, 23.0), (4.676, 22.0), (4.706, 21.5), (4.736, 21.0),
    (4.766, 20.5), (4.796, 20.0), (4.826, 19.0), (4.848, 35.0), (4.871, 37.5), (4.893, 36.5),
    (4.916, 37.0), (4.938, 35.5), (4.961, 29.0), (4.991, 24.5), (5.021, 22.5), (5.051, 21.5),
    (5.081, 21.0), (5.111, 20.5), (5.141, 20.0), (5.164, 20.5), (5.186, 15.5), (5.209, 19.5),
    (5.231, 19.0), (5.246, 21.5), (5.269, 18.0), (5.299, 15.5), (5.329, 13.0), (5.359, 12.0),
    (5.389, 11.5), (5.426, 13.0), (5.471, 16.0), (5.516, 20.0), (5.561, 24.0), (5.591, 28.0),
    (5.636, 27.5), (5.666, 27.0), (5.696, 26.0), (5.726, 25.0), (5.749, 24.5), (5.764, 35.0),
    (5.786, 25.0), (5.809, 22.0), (5.831, 33.5), (5.854, 37.0), (5.876, 36.0), (5.906, 37.0),
    (5.936, 36.0), (5.966, 36.5), (5.996, 35.0), (6.026, 33.5), (6.056, 33.0), (6.086, 30.0),
    (6.116, 25.0), (6.146, 22.5), (6.176, 22.0), (6.206, 22.0), (6.236, 22.5), (6.251, 26.5),
    (6.274, 23.0), (6.296, 18.0), (6.326, 17.0), (6.356, 16.0), (6.386, 15.0), (6.431, 15.0),
    (6.476, 16.0), (6.521, 16.5), (6.551, 17.5), (6.581, 20.0),
    (7.249, 29.0), (7.272, 24.0), (7.294, 28.5), (7.317, 27.0), (7.339, 21.5), (7.362, 15.0),
    (7.384, 13.0), (7.407, 11.5), (7.437, 11.0), (7.497, 11.0),
]
burst33 = [
    (6.596, 7.227, [37.0, 29.5, 35.5, 29.0, 33.0, 23.0, 35.5, 29.0, 33.0, 19.5, 31.0, 37.0, 29.5,
                    37.5, 36.5, 37.0, 36.0, 36.5, 35.5, 36.5, 35.0, 34.0, 36.0, 35.5, 34.5, 36.0,
                    35.0, 35.5, 34.0, 35.5, 33.0]),
    (7.512, 10.257, [22.0, 36.5, 31.0, 37.5, 32.0, 37.0, 29.5, 37.5, 31.5, 37.0, 28.5, 36.5, 27.5,
                     36.0, 31.0, 37.0, 32.5, 36.5, 34.0, 37.0, 35.0, 36.5, 34.5, 37.0, 35.5, 36.5,
                     34.5, 36.0, 35.0, 36.5, 34.5, 36.0, 33.0, 35.5, 30.0, 35.0, 28.5, 34.0, 25.0,
                     33.5, 28.0, 32.0, 26.0, 33.0, 27.0, 36.0, 28.5, 33.5, 27.5, 32.5, 28.5, 35.5,
                     28.5, 32.0, 29.0, 36.0, 30.5, 33.5, 31.0, 38.0, 34.0, 37.5, 35.0, 36.5, 35.0,
                     37.0, 35.5, 36.5, 35.0, 36.5, 35.5, 37.0, 35.0, 36.0, 34.5, 36.5, 37.0, 35.5,
                     32.0, 35.0, 30.0, 36.5, 29.5, 35.0, 27.0, 36.0, 28.5, 37.0, 29.5, 38.0, 30.0,
                     36.5, 29.5, 38.5, 32.0, 38.5, 30.5, 37.5, 33.0, 38.5, 30.0, 38.5, 31.0, 36.0,
                     34.5, 34.0, 33.5, 34.5, 35.5, 36.5, 35.0, 37.0, 35.5, 36.5, 35.5, 37.0, 35.5,
                     36.0, 35.0, 36.5, 35.0, 33.5, 34.0]),
]

names = ['box_for_14', 'box_for_16', 'box_for_18', 'box_for_22',
         'box_for_26', 'box_for_27', 'box_for_29', 'box_for_33']
traces = [box14, box16, box18, box22, box26, box27, box29, box33]
bursts = [burst14, burst16, burst18, burst22, burst26, burst27, burst29, burst33]
n_nights = [7, 7, 6, 7, 8, 9, 9, 10]
# dusk / dawn as fraction of a day around each midnight
dusk = [-0.155, -0.15, -0.14, -0.15, -0.15, -0.155, -0.15, -0.16]
dawn = [0.247, 0.248, 0.255, 0.248, 0.25, 0.245, 0.245, 0.25]

DAY_COL = '#FDF6E2'
NIGHT_COL = '#C9E0F3'
RED = '#F2625E'


def build(points, extra):
    xs = [p[0] for p in points]
    ys = [p[1] for p in points]
    for t0, t1, vals in extra:
        xs.extend(np.linspace(t0, t1, len(vals)))
        ys.extend(vals)
    order = np.argsort(xs)
    return np.asarray(xs)[order], np.asarray(ys)[order]


W, H = 1221, 1602
fig = plt.figure(figsize=(W / 100, H / 100), dpi=100)
col_left = [62, 659]
row_top = [8, 404, 801, 1198]
aw, ah = 556, 344

for i, name in enumerate(names):
    r, c = divmod(i, 2)
    ax = fig.add_axes([col_left[c] / W, 1 - (row_top[r] + ah) / H, aw / W, ah / H])
    x, y = build(traces[i], bursts[i])
    start, end = x[0], x[-1]

    ax.axvspan(start, end, color=DAY_COL, lw=0, zorder=0)
    for d in range(1, n_nights[i] + 1):
        a, b = max(d + dusk[i], start), min(d + dawn[i], end)
        ax.axvspan(a, b, color=NIGHT_COL, lw=0, zorder=0)

    ax.hlines(30, start, end, color=RED, lw=1.3, zorder=1)
    ax.hlines([27, 32], start, end, color=RED, lw=1.3, linestyles=(0, (3.5, 2.5)), zorder=1)
    ax.plot(x, y, color='black', lw=1.1, zorder=2)

    pad = 0.04 * (end - start)
    ax.set_xlim(start - pad, end + pad)
    ax.set_ylim(3.75, 41.25)
    ax.set_yticks(range(5, 41, 5))
    ax.set_xticks(range(1, n_nights[i] + 1))
    ax.set_xticks(np.arange(0.5, n_nights[i], 1.0), minor=True)
    ax.tick_params(axis='y', direction='in', length=8, width=1.2, pad=5,
                   labelsize=13, colors='#222222')
    ax.tick_params(axis='x', which='both', direction='out', length=7, width=1.2,
                   pad=4, labelsize=13, colors='#222222')
    for side in ['left', 'bottom']:
        ax.spines[side].set_linewidth(1.6)
        ax.spines[side].set_color('#222222')
    for side in ['top', 'right']:
        ax.spines[side].set_linewidth(1.1)
        ax.spines[side].set_color('#444444')

    ax.text(0.056, 0.024, name, transform=ax.transAxes, fontsize=14,
            va='baseline', ha='left', color='#111111', zorder=3)
    if c == 0:
        ax.set_ylabel('nest temperature (°C)', fontsize=14.5, color='#222222', labelpad=4)
    if r == 3:
        ax.set_xlabel('midnights after laying of first egg', fontsize=14.5,
                      color='#222222', labelpad=1)

fig.savefig('out.png', dpi=100)
